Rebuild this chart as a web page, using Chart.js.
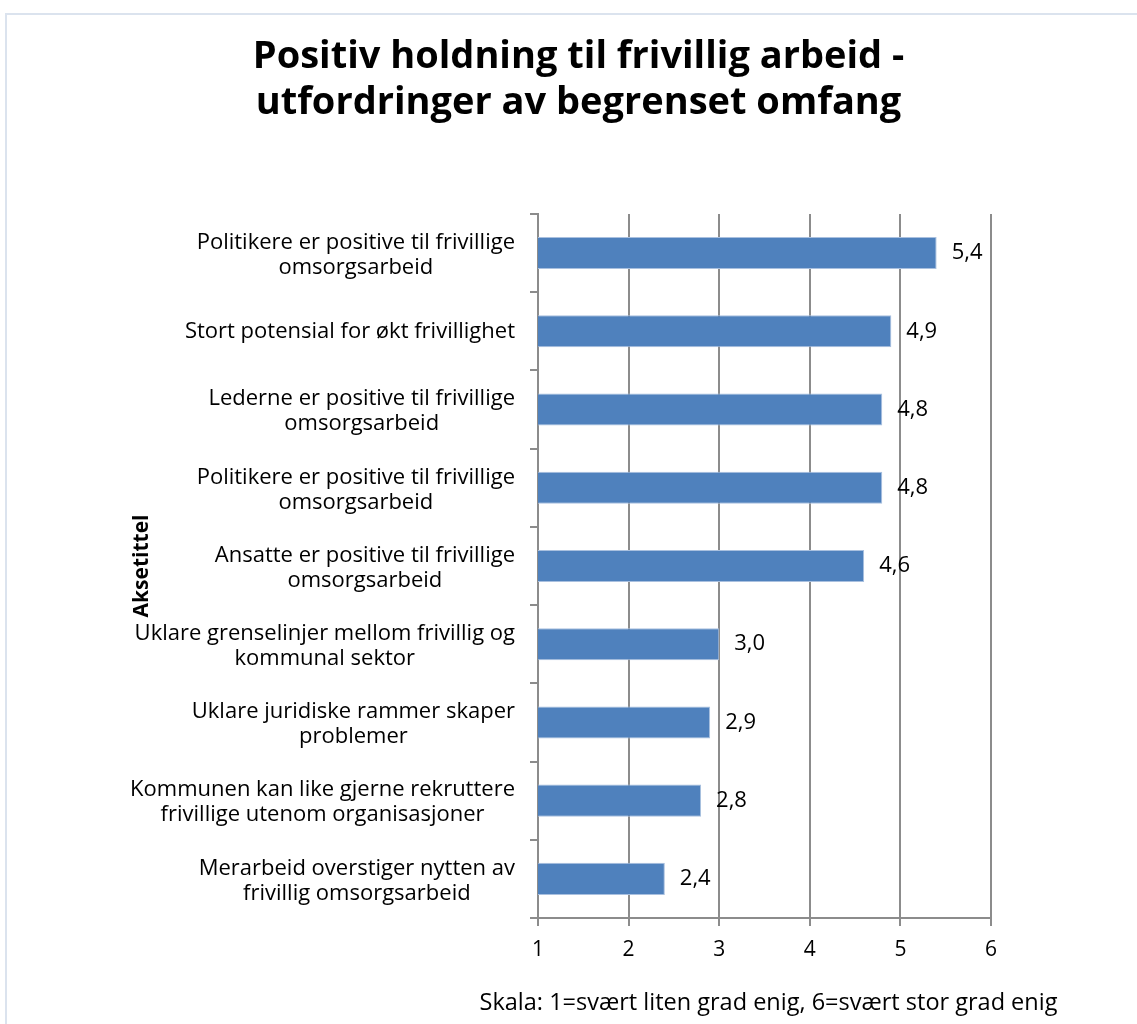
<!DOCTYPE html>
<html>
<head>
<meta charset="utf-8">
<script src="https://cdn.jsdelivr.net/npm/chart.js@4"></script>
<style>
  html, body { margin: 0; padding: 0; background: #fff; }
  #wrap { position: relative; width: 1137px; height: 1024px; overflow: hidden; }
  #frame { position: absolute; left: 5px; top: 13px; width: 1200px; height: 1100px;
           border: 2px solid #dbe3ee; box-sizing: border-box; }
  #chart { position: absolute; left: 0; top: 0; }
</style>
</head>
<body>
<div id="wrap">
  <div id="frame"></div>
  <canvas id="chart" width="1137" height="1024"></canvas>
</div>
<script>
const titleLines = ['Positiv holdning til frivillig arbeid -', 'utfordringer av begrenset omfang'];
const categories = [
  ['Politikere er positive til frivillige', 'omsorgsarbeid'],
  ['Stort potensial for økt frivillighet'],
  ['Lederne er positive til frivillige', 'omsorgsarbeid'],
  ['Politikere er positive til frivillige', 'omsorgsarbeid'],
  ['Ansatte er positive til frivillige', 'omsorgsarbeid'],
  ['Uklare grenselinjer mellom frivillig og', 'kommunal sektor'],
  ['Uklare juridiske rammer skaper', 'problemer'],
  ['Kommunen kan like gjerne rekruttere', 'frivillige utenom organisasjoner'],
  ['Merarbeid overstiger nytten av', 'frivillig omsorgsarbeid']
];
const values = [5.4, 4.9, 4.8, 4.8, 4.6, 3.0, 2.9, 2.8, 2.4];
const xTicks = [1, 2, 3, 4, 5, 6];
const axisTitle = 'Aksetittel';
const scaleNote = 'Skala: 1=svært liten grad enig, 6=svært stor grad enig';

const FONT = '"Open Sans", sans-serif';
const gridGray = '#8c8c8c';

// category labels (block right-aligned, lines centred in the block) + scale note
const textLayer = {
  id: 'textLayer',
  afterDraw(chart) {
    const ctx = chart.ctx;
    const y = chart.scales.y;
    const x = chart.scales.x;
    ctx.save();
    ctx.font = '22px ' + FONT;
    ctx.fillStyle = '#000';
    ctx.textAlign = 'center';
    ctx.textBaseline = 'middle';
    const rightEdge = y.right - 23;
    const lh = 25;
    categories.forEach((lines, i) => {
      const cy = y.getPixelForTick(i);
      const w = Math.max(...lines.map(l => ctx.measureText(l).width));
      const cx = rightEdge - w / 2;
      const y0 = cy - (lines.length - 1) * lh / 2 + (lines.length > 1 ? 2 : 0);
      lines.forEach((l, j) => ctx.fillText(l, cx, y0 + j * lh));
    });
    // note under the x axis, centred on the plot area
    ctx.font = '23.5px ' + FONT;
    ctx.fillText(scaleNote, (x.left + x.right) / 2 + 4, x.bottom - 21);
    ctx.restore();
  }
};

// value labels to the right of each bar
const valueLabels = {
  id: 'valueLabels',
  afterDatasetsDraw(chart) {
    const ctx = chart.ctx;
    const meta = chart.getDatasetMeta(0);
    ctx.save();
    ctx.font = '22px ' + FONT;
    ctx.fillStyle = '#000';
    ctx.textAlign = 'left';
    ctx.textBaseline = 'middle';
    meta.data.forEach((bar, i) => {
      ctx.fillText(values[i].toFixed(1).replace('.', ','), bar.x + 15, bar.y);
    });
    ctx.restore();
  }
};

new Chart(document.getElementById('chart'), {
  type: 'bar',
  data: {
    labels: categories,
    datasets: [{
      data: values,
      backgroundColor: '#4f81bd',
      borderColor: '#a9c0df',
      borderWidth: 1,
      borderSkipped: 'left',
      barPercentage: 0.41,
      categoryPercentage: 1
    }]
  },
  options: {
    indexAxis: 'y',
    responsive: false,
    animation: false,
    layout: { padding: { left: 166, right: 146, top: 0, bottom: 0 } },
    plugins: {
      legend: { display: false },
      tooltip: { enabled: false },
      title: {
        display: true,
        text: titleLines,
        color: '#000',
        font: { family: FONT, size: 38, weight: 'bold', lineHeight: 1.21 },
        padding: { top: 34, bottom: 88 }
      }
    },
    scales: {
      x: {
        min: 1,
        max: 6,
        afterBuildTicks(scale) { scale.ticks = xTicks.map(v => ({ value: v })); },
        afterFit(scale) { scale.height = 106; },
        grid: { color: gridGray, lineWidth: 2, tickLength: 8 },
        border: { color: gridGray, width: 2 },
        ticks: { color: '#000', font: { family: FONT, size: 21 }, padding: 11 }
      },
      y: {
        afterFit(scale) { scale.width = 372; },
        grid: { offset: true, drawOnChartArea: false, color: gridGray, lineWidth: 2, tickLength: 8 },
        border: { color: gridGray, width: 2 },
        ticks: { color: 'rgba(0,0,0,0)', font: { family: FONT, size: 20 } },
        title: {
          display: true,
          text: axisTitle,
          color: '#000',
          font: { family: FONT, size: 21, weight: 'bold' },
          padding: { top: -37 }
        }
      }
    }
  },
  plugins: [textLayer, valueLabels]
});
</script>
</body>
</html>
